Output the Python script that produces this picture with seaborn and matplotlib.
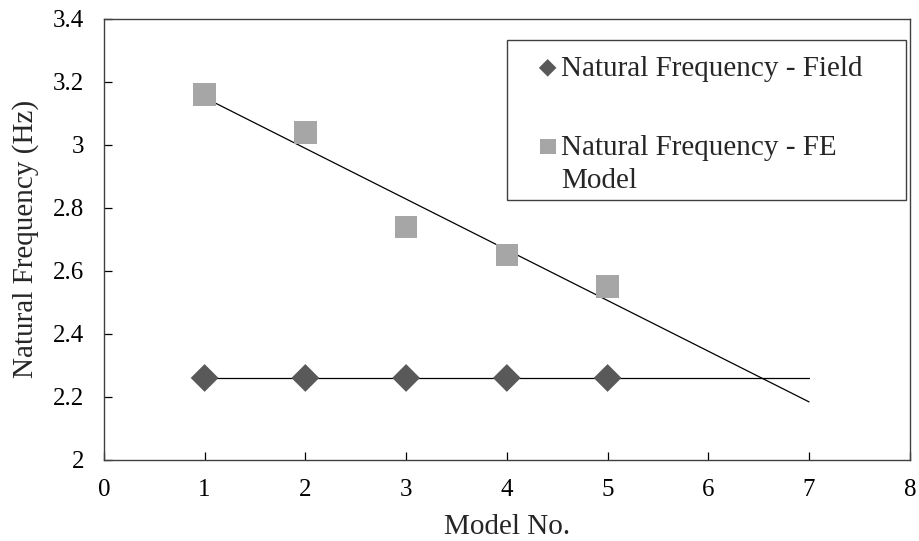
import numpy as np
import pandas as pd
import matplotlib
matplotlib.use("Agg")
import matplotlib.pyplot as plt
from matplotlib.patches import Rectangle
import seaborn as sns

# Natural frequency per model
model_no = [1, 2, 3, 4, 5]
freq_field = [2.26, 2.26, 2.26, 2.26, 2.26]
freq_fe = [3.16, 3.04, 2.74, 2.65, 2.55]
trend_x = [1, 7]

sns.set_theme(style="white")
plt.rcParams["font.family"] = ["Liberation Serif", "DejaVu Serif"]

fig = plt.figure(figsize=(9.19, 5.41), dpi=100)
ax = fig.add_axes([0.113, 0.150, 0.877, 0.815])

df_field = pd.DataFrame({"x": model_no, "y": freq_field})
df_fe = pd.DataFrame({"x": model_no, "y": freq_fe})

# Linear trend lines extended to model 7
for d in (df_field, df_fe):
    k, b = np.polyfit(d["x"], d["y"], 1)
    tx = np.array(trend_x, dtype=float)
    sns.lineplot(x=tx, y=k * tx + b, ax=ax, color="black", linewidth=0.9,
                 legend=False, zorder=2)

sns.scatterplot(data=df_field, x="x", y="y", ax=ax, marker="D", s=200,
                color="#595959", edgecolor="none", zorder=3,
                label="Natural Frequency - Field")
sns.scatterplot(data=df_fe, x="x", y="y", ax=ax, marker="s", s=260,
                color="#A6A6A6", edgecolor="none", zorder=3,
                label="Natural Frequency - FE\nModel")

ax.set_xlim(0, 8)
ax.set_ylim(2, 3.4)
ax.set_xticks(range(0, 9))
ax.set_yticks([2, 2.2, 2.4, 2.6, 2.8, 3, 3.2, 3.4])
ax.set_yticklabels(["2", "2.2", "2.4", "2.6", "2.8", "3", "3.2", "3.4"])
ax.tick_params(axis="both", direction="in", length=6, width=0.9,
               colors="black", labelsize=18)
ax.tick_params(axis="x", bottom=True, pad=14)
ax.tick_params(axis="y", left=True, pad=14)
for sp in ax.spines.values():
    sp.set_color("#404040")
    sp.set_linewidth(1.0)

ax.set_xlabel("Model No.", fontsize=21, labelpad=9)
ax.set_ylabel("Natural Frequency (Hz)", fontsize=21, labelpad=10)

# Legend box drawn as a plain rectangle, entries placed inside it
ax.add_patch(Rectangle((0.50, 0.59), 0.495, 0.362, transform=ax.transAxes,
                       facecolor="white", edgecolor="#404040", linewidth=1.0,
                       zorder=4))
leg = ax.legend(loc="upper left", bbox_to_anchor=(0.538, 0.918), fontsize=21,
                frameon=False, borderpad=0, labelspacing=1.85,
                handletextpad=0.1, handlelength=0.7, borderaxespad=0)
leg.set_zorder(5)
for t in leg.get_texts():
    t.set_linespacing(1.35)
sizes = [80, 130]
for h, sz in zip(leg.legend_handles, sizes):
    h.set_sizes([sz])

# Align the two-line entry's marker with its first line of text
fe_handle = leg.legend_handles[1]
offs = np.asarray(fe_handle.get_offsets(), dtype=float).copy()
offs[:, 1] += 15
fe_handle.set_offsets(offs)

fig.savefig("out.png", dpi=100)
